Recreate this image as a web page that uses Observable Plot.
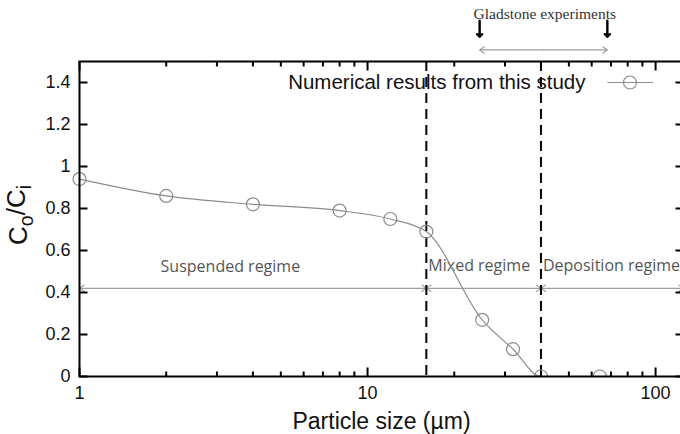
<!DOCTYPE html>
<html>
<head>
<meta charset="utf-8">
<script src="https://cdn.jsdelivr.net/npm/d3@7"></script>
<script src="https://cdn.jsdelivr.net/npm/@observablehq/plot@0.6"></script>
<style>
  html, body { margin: 0; padding: 0; background: #fff; overflow: hidden; }
  #chart svg { display: block; }
</style>
</head>
<body>
<div id="chart"></div>
<script>
// ---- data ----
const sizes  = [1, 2, 4, 8, 12, 16, 25, 32, 40, 64];            // particle size (µm)
const ratios = [0.94, 0.86, 0.82, 0.79, 0.75, 0.69, 0.27, 0.13, 0, 0]; // Co/Ci
const regimeBounds = [1, 16, 40, 125];
const regimeNames  = ["Suspended regime", "Mixed regime", "Deposition regime"];
const gladstoneRange = [24.5, 68];
const xMajorTicks = [1, 10, 100];
const xMinorTicks = [2, 3, 4, 5, 6, 7, 8, 9, 20, 30, 40, 50, 60, 70, 80, 90];
const yTicks = [0, 0.2, 0.4, 0.6, 0.8, 1, 1.2, 1.4];
const legendLabel = "Numerical results from this study";
const xTitle = "Particle size (µm)";
const yTitle = "Co/Ci";
const gladstoneLabel = "Gladstone experiments";

// ---- layout ----
const W = 680, H = 434, mL = 79, mR = -3, mT = 61, mB = 58;
const xDomain = [regimeBounds[0], regimeBounds[3]], yDomain = [0, 1.5];
const innerW = W - mL - mR, innerH = H - mT - mB;
const pxPerDecade = innerW / Math.log10(xDomain[1] / xDomain[0]);
const pxPerUnit = innerH / (yDomain[1] - yDomain[0]);
const dyTick = px => px / pxPerUnit;           // tick length (px) in y units
const kxTick = px => 10 ** (px / pxPerDecade); // tick length (px) as x factor

// ---- derived tables ----
const points = sizes.map((x, i) => ({x, y: ratios[i]}));
const regimes = regimeNames.map((name, i) => ({name, x1: regimeBounds[i], x2: regimeBounds[i + 1]}));
// each double-headed arrow = two single-headed arrows from the (log) midpoint
const halves = ([a, b]) => { const m = Math.sqrt(a * b); return [{from: m, to: a}, {from: m, to: b}]; };
const regimeArrows = regimes.flatMap(r => halves([r.x1, r.x2]));
const gladstoneArrows = halves(gladstoneRange);
// inward tick marks on all four sides
const xTickSegs = (ticks, len) => ticks.flatMap(x => [
  {x1: x, x2: x, y1: yDomain[0], y2: yDomain[0] + dyTick(len)},
  {x1: x, x2: x, y1: yDomain[1], y2: yDomain[1] - dyTick(len)}
]);
const yTickSegs = yTicks.flatMap(y => [
  {x1: xDomain[0], x2: xDomain[0] * kxTick(8), y1: y, y2: y},
  {x1: xDomain[1], x2: xDomain[1] / kxTick(8), y1: y, y2: y}
]);
const tickSegs = [...xTickSegs(xMajorTicks, 9), ...xTickSegs(xMinorTicks, 5), ...yTickSegs];

const sans = "'Liberation Sans', Arial, Helvetica, sans-serif";
const humanist = "'Open Sans', sans-serif";
const grayLine = "#8c8c8c";
const arrowGray = "#a0a0a0";

const chart = Plot.plot({
  width: W,
  height: H,
  marginLeft: mL,
  marginRight: mR,
  marginTop: mT,
  marginBottom: mB,
  style: {fontFamily: sans, background: "#fff", color: "#111", overflow: "hidden"},
  x: {type: "log", domain: xDomain, axis: null},
  y: {domain: yDomain, axis: null},
  marks: [
    // regime arrows
    Plot.arrow(regimeArrows, {x1: "from", x2: "to", y1: 0.42, y2: 0.42, stroke: arrowGray, strokeWidth: 1.2, headLength: 7, headAngle: 70}),
    // regime labels
    Plot.text([regimes[0]], {x: 3.34, y: 0.52, text: "name", fontFamily: humanist, fontSize: 16, fill: "#555"}),
    Plot.text(regimes.slice(1), {x: "x1", y: 0.525, text: "name", textAnchor: "start", dx: 2, fontFamily: humanist, fontSize: 16, fill: "#555"}),
    // regime boundaries
    Plot.ruleX(regimeBounds.slice(1, 3), {stroke: "#000", strokeWidth: 2, strokeDasharray: "10,6"}),
    // fitted line + data points
    Plot.line(points, {x: "x", y: "y", curve: "monotone-x", stroke: grayLine, strokeWidth: 1.2}),
    Plot.dot(points.filter(d => d.y > 0), {x: "x", y: "y", r: 6.5, stroke: grayLine, strokeWidth: 1.2, fill: "none"}),
    Plot.dot(points.filter(d => d.y === 0), {x: "x", y: "y", r: 6.5, stroke: grayLine, strokeWidth: 1.2, fill: "none", clip: true}),
    // legend
    Plot.text([legendLabel], {x: 57.1, y: 1.4, textAnchor: "end", fontSize: 20.5, fill: "#111"}),
    Plot.link([0], {x1: 68, x2: 98, y1: 1.4, y2: 1.4, stroke: grayLine, strokeWidth: 1.2}),
    Plot.dot([0], {x: 81.5, y: 1.4, r: 6.5, stroke: grayLine, strokeWidth: 1.2, fill: "none"}),
    // Gladstone experiments annotation (above the frame)
    Plot.text([gladstoneLabel], {x: Math.sqrt(gladstoneRange[0] * gladstoneRange[1]) * 1.01, y: 1.727, fontFamily: "'Liberation Serif', 'Times New Roman', serif", fontSize: 15.5, fill: "#333"}),
    Plot.vector(gladstoneRange, {x: d => d, y: 1.618, anchor: "end", rotate: 180, length: 16, r: 2.8, stroke: "#000", strokeWidth: 2.4}),
    Plot.arrow(gladstoneArrows, {x1: "from", x2: "to", y1: 1.555, y2: 1.555, stroke: arrowGray, strokeWidth: 1.2, headLength: 7, headAngle: 70}),
    // frame
    Plot.frame({stroke: "#000", strokeWidth: 2}),
    // tick labels
    Plot.text(xMajorTicks, {x: d => d, text: d => String(d), frameAnchor: "bottom", lineAnchor: "top", dy: 10, fontSize: 18, fill: "#111"}),
    Plot.text(yTicks, {y: d => d, text: d => String(+d.toFixed(1)), frameAnchor: "left", textAnchor: "end", dx: -9, fontSize: 18, fill: "#111"}),
    // axis titles
    Plot.text([xTitle], {frameAnchor: "bottom", dy: 52, lineAnchor: "bottom", fontSize: 23, fill: "#111"}),
    Plot.text([yTitle], {frameAnchor: "left", dx: -61, dy: -4, textAnchor: "middle", rotate: -90, fontSize: 26, fill: "#111"}),
    // inward tick marks (drawn last, on top)
    Plot.link(tickSegs, {x1: "x1", x2: "x2", y1: "y1", y2: "y2", stroke: "#000", strokeWidth: 2})
  ]
});

document.getElementById("chart").appendChild(chart);

// subscripts for the y-axis title (Co / Ci)
d3.select(chart).selectAll("text")
  .filter(function () { return this.textContent === yTitle; })
  .each(function () {
    const t = d3.select(this);
    t.text(null);
    t.append("tspan").text("C");
    t.append("tspan").attr("dy", "0.3em").attr("font-size", "0.75em").text("o");
    t.append("tspan").attr("dy", "-0.3em").text("/C");
    t.append("tspan").attr("dy", "0.3em").attr("font-size", "0.75em").text("i");
  });
</script>
</body>
</html>
